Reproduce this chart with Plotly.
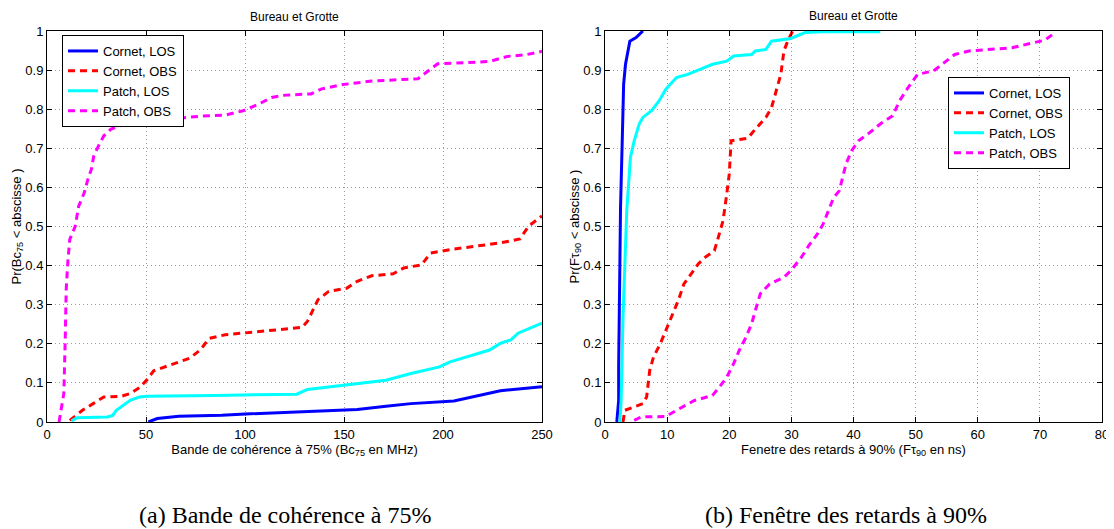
import plotly.graph_objects as go

# ---------------- Data: left panel (coherence bandwidth, MHz) ----------------
bc_cornet_los_x = [51.2, 55.7, 66.6, 88.2, 102.6, 124.3, 156.7, 171.2, 183.8, 205.5, 210.9, 218.2, 229.0, 250.0]
bc_cornet_los_y = [0.0, 0.009, 0.015, 0.017, 0.021, 0.026, 0.032, 0.040, 0.047, 0.054, 0.060, 0.068, 0.080, 0.090]

bc_cornet_obs_x = [11.5, 17.9, 23.3, 28.7, 37.7, 42.2, 46.7, 50.3, 53.9, 62.9, 72.0, 77.4, 81.9, 90.0, 99.0,
                   117.0, 128.8, 131.5, 134.2, 136.9, 142.3, 151.3, 156.7, 164.0, 174.8, 180.2, 189.2, 193.7,
                   203.6, 214.5, 228.9, 238.8, 243.3, 250.0]
bc_cornet_obs_y = [0.004, 0.030, 0.047, 0.064, 0.066, 0.073, 0.088, 0.107, 0.131, 0.146, 0.163, 0.184, 0.214,
                   0.223, 0.227, 0.235, 0.242, 0.257, 0.287, 0.313, 0.334, 0.342, 0.360, 0.374, 0.379, 0.394,
                   0.402, 0.432, 0.441, 0.449, 0.458, 0.468, 0.501, 0.527]

bc_patch_los_x = [12.4, 15.2, 30.5, 33.2, 35.0, 38.6, 42.2, 46.7, 50.3, 84.6, 126.1, 131.5, 149.5, 171.2,
                  183.8, 198.2, 203.6, 214.5, 223.5, 228.9, 234.3, 237.9, 250.0]
bc_patch_los_y = [0.003, 0.011, 0.013, 0.017, 0.030, 0.043, 0.056, 0.064, 0.066, 0.068, 0.071, 0.083, 0.094,
                  0.107, 0.124, 0.141, 0.154, 0.171, 0.184, 0.201, 0.210, 0.227, 0.253]

bc_patch_obs_x = [6.1, 8.5, 9.2, 9.7, 10.6, 11.5, 14.2, 16.0, 18.8, 20.6, 22.4, 23.6, 26.0, 28.7, 32.3, 37.7,
                  44.9, 53.9, 66.6, 77.4, 90.0, 99.0, 106.1, 113.4, 120.6, 133.3, 138.7, 149.5, 164.0, 187.4,
                  192.8, 197.3, 210.9, 223.5, 232.5, 241.5, 250.0]
bc_patch_obs_y = [0.0, 0.073, 0.21, 0.34, 0.415, 0.467, 0.50, 0.552, 0.586, 0.62, 0.646, 0.68, 0.706, 0.732,
                  0.749, 0.759, 0.768, 0.773, 0.777, 0.782, 0.785, 0.796, 0.811, 0.830, 0.836, 0.839, 0.852,
                  0.863, 0.872, 0.878, 0.899, 0.916, 0.919, 0.922, 0.935, 0.939, 0.948]

# ---------------- Data: right panel (90% delay window, ns) ----------------
ft_cornet_los_x = [1.9, 2.2, 2.2, 2.5, 2.8, 3.0, 3.3, 3.7, 4.0, 5.0, 6.1]
ft_cornet_los_y = [0.0, 0.055, 0.145, 0.549, 0.736, 0.864, 0.915, 0.949, 0.974, 0.983, 1.0]

ft_cornet_obs_x = [2.9, 3.2, 6.1, 6.7, 7.2, 7.8, 8.9, 9.8, 10.7, 11.8, 12.7, 13.8, 15.0, 16.1, 17.6, 18.4,
                   19.0, 19.6, 20.0, 20.3, 23.0, 24.2, 25.9, 26.8, 27.6, 28.3, 28.8, 29.4, 30.2]
ft_cornet_obs_y = [0.0, 0.030, 0.047, 0.064, 0.132, 0.166, 0.200, 0.234, 0.268, 0.311, 0.353, 0.379, 0.404,
                   0.421, 0.438, 0.481, 0.515, 0.583, 0.634, 0.719, 0.726, 0.749, 0.779, 0.804, 0.847, 0.889,
                   0.949, 0.974, 1.0]

ft_patch_los_x = [2.4, 2.6, 2.9, 3.2, 3.5, 3.8, 4.1, 4.7, 5.5, 6.1, 7.5, 8.7, 9.8, 11.5, 13.3, 15.0, 17.3,
                  19.6, 20.7, 23.6, 24.2, 25.9, 26.8, 29.9, 32.2, 35.1, 44.3]
ft_patch_los_y = [0.0, 0.055, 0.268, 0.413, 0.540, 0.609, 0.677, 0.719, 0.762, 0.779, 0.796, 0.821, 0.851,
                  0.881, 0.889, 0.900, 0.915, 0.923, 0.936, 0.940, 0.949, 0.953, 0.974, 0.981, 0.996, 0.998,
                  0.998]

ft_patch_obs_x = [4.7, 5.8, 9.8, 11.5, 14.4, 17.3, 18.4, 19.6, 20.7, 21.6, 22.7, 23.6, 24.2, 25.0, 26.5, 28.8,
                  29.9, 31.6, 32.8, 34.2, 35.1, 36.0, 36.8, 37.7, 38.3, 38.8, 39.7, 40.8, 42.6, 44.3, 46.3,
                  47.4, 48.6, 49.5, 50.3, 52.9, 54.6, 56.3, 58.6, 62.1, 65.5, 68.4, 70.7, 72.5]
ft_patch_obs_y = [0.004, 0.013, 0.014, 0.030, 0.055, 0.068, 0.089, 0.115, 0.149, 0.183, 0.217, 0.251, 0.285,
                  0.328, 0.353, 0.370, 0.387, 0.421, 0.451, 0.481, 0.506, 0.540, 0.574, 0.591, 0.626, 0.660,
                  0.694, 0.719, 0.740, 0.762, 0.783, 0.821, 0.851, 0.872, 0.889, 0.898, 0.919, 0.940, 0.949,
                  0.953, 0.957, 0.968, 0.976, 0.996]

series_names = ["Cornet, LOS", "Cornet, OBS", "Patch, LOS", "Patch, OBS"]
y_ticks = [0, 0.1, 0.2, 0.3, 0.4, 0.5, 0.6, 0.7, 0.8, 0.9, 1]

colors = ["#0000ff", "#ff0000", "#00ffff", "#ff00ff"]
dashes = ["solid", "7px,5px", "solid", "7px,5px"]
FONT = "Liberation Sans, Arial, sans-serif"
SERIF = "Liberation Serif, Times New Roman, serif"

fig = go.Figure()

left_data = [(bc_cornet_los_x, bc_cornet_los_y), (bc_cornet_obs_x, bc_cornet_obs_y),
             (bc_patch_los_x, bc_patch_los_y), (bc_patch_obs_x, bc_patch_obs_y)]
right_data = [(ft_cornet_los_x, ft_cornet_los_y), (ft_cornet_obs_x, ft_cornet_obs_y),
              (ft_patch_los_x, ft_patch_los_y), (ft_patch_obs_x, ft_patch_obs_y)]

for i, (xs, ys) in enumerate(left_data):
    fig.add_trace(go.Scatter(x=xs, y=ys, mode="lines", name=series_names[i],
                             line=dict(color=colors[i], width=3, dash=dashes[i]),
                             xaxis="x", yaxis="y", legend="legend"))
for i, (xs, ys) in enumerate(right_data):
    fig.add_trace(go.Scatter(x=xs, y=ys, mode="lines", name=series_names[i],
                             line=dict(color=colors[i], width=3, dash=dashes[i]),
                             xaxis="x2", yaxis="y2", legend="legend2"))

# Page body has an 8px margin; figure is sized/positioned so that the target
# layout (in window pixels) is reproduced.
OFF = 8
W, H = 1114 - OFF, 529 - OFF
PLOT_L, PLOT_R, PLOT_T, PLOT_B = 47, 1102, 31, 422          # window pixels
ML, MT = PLOT_L - OFF, PLOT_T - OFF
MR = W - (PLOT_R - OFF)
MB = H - (PLOT_B - OFF)
PW = PLOT_R - PLOT_L
PH = PLOT_B - PLOT_T


def ax(xw):
    # window pixel x -> plot-area ("paper") fraction
    return (xw - PLOT_L) / PW


def ay(yw):
    # window pixel y -> plot-area ("paper") fraction
    return (PLOT_B - yw) / PH


common_axis = dict(showline=True, linecolor="black", linewidth=1, mirror="ticks",
                   ticks="inside", ticklen=5, tickcolor="black",
                   showgrid=True, gridcolor="#9a9a9a", griddash="1px,3px", gridwidth=1,
                   zeroline=False, automargin=False,
                   tickfont=dict(family=FONT, size=13, color="black"))

fig.update_layout(
    width=W, height=H,
    margin=dict(l=ML, r=MR, t=MT, b=MB, autoexpand=False),
    paper_bgcolor="white", plot_bgcolor="white",
    font=dict(family=FONT, size=13, color="black"),
    xaxis=dict(domain=[0, ax(542)], range=[0, 250], dtick=50, anchor="y", **common_axis,
               title=dict(text="Bande de cohérence à 75% (Bc<sub>75</sub> en MHz)",
                          font=dict(family=FONT, size=13), standoff=1)),
    yaxis=dict(domain=[0, 1], range=[0, 1], tickvals=y_ticks, anchor="x", **common_axis,
               title=dict(text="Pr(Bc<sub>75</sub> &lt; abscisse )",
                          font=dict(family=FONT, size=13), standoff=0)),
    xaxis2=dict(domain=[ax(605), 1], range=[0, 80], dtick=10, anchor="y2", **common_axis,
                title=dict(text="Fenetre des retards à 90% (Fτ<sub>90</sub> en ns)",
                           font=dict(family=FONT, size=13), standoff=1)),
    yaxis2=dict(domain=[0, 1], range=[0, 1], tickvals=y_ticks, anchor="x2", **common_axis,
                title=dict(text="Pr(Fτ<sub>90</sub> &lt; abscisse )",
                           font=dict(family=FONT, size=13), standoff=0)),
    legend=dict(x=ax(62), y=ay(35), xanchor="left", yanchor="top",
                bgcolor="white", bordercolor="black", borderwidth=1,
                font=dict(family=FONT, size=13), tracegroupgap=0, itemwidth=30),
    legend2=dict(x=ax(948), y=ay(77), xanchor="left", yanchor="top",
                 bgcolor="white", bordercolor="black", borderwidth=1,
                 font=dict(family=FONT, size=13), tracegroupgap=0, itemwidth=30),
    showlegend=True,
)

annotations = [
    dict(text="Bureau et Grotte", x=ax((47 + 542) / 2), y=ay(17), xref="paper", yref="paper",
         xanchor="center", yanchor="middle", showarrow=False, font=dict(family=FONT, size=12)),
    dict(text="Bureau et Grotte", x=ax((605 + 1102) / 2), y=ay(16), xref="paper", yref="paper",
         xanchor="center", yanchor="middle", showarrow=False, font=dict(family=FONT, size=12)),
    dict(text="(a) Bande de cohérence à 75%", x=ax(285), y=ay(515), xref="paper", yref="paper",
         xanchor="center", yanchor="middle", showarrow=False, font=dict(family=SERIF, size=24)),
    dict(text="(b) Fenêtre des retards à 90%", x=ax(846), y=ay(515), xref="paper", yref="paper",
         xanchor="center", yanchor="middle", showarrow=False, font=dict(family=SERIF, size=24)),
]
fig.update_layout(annotations=annotations)

fig.write_html("out.html")
